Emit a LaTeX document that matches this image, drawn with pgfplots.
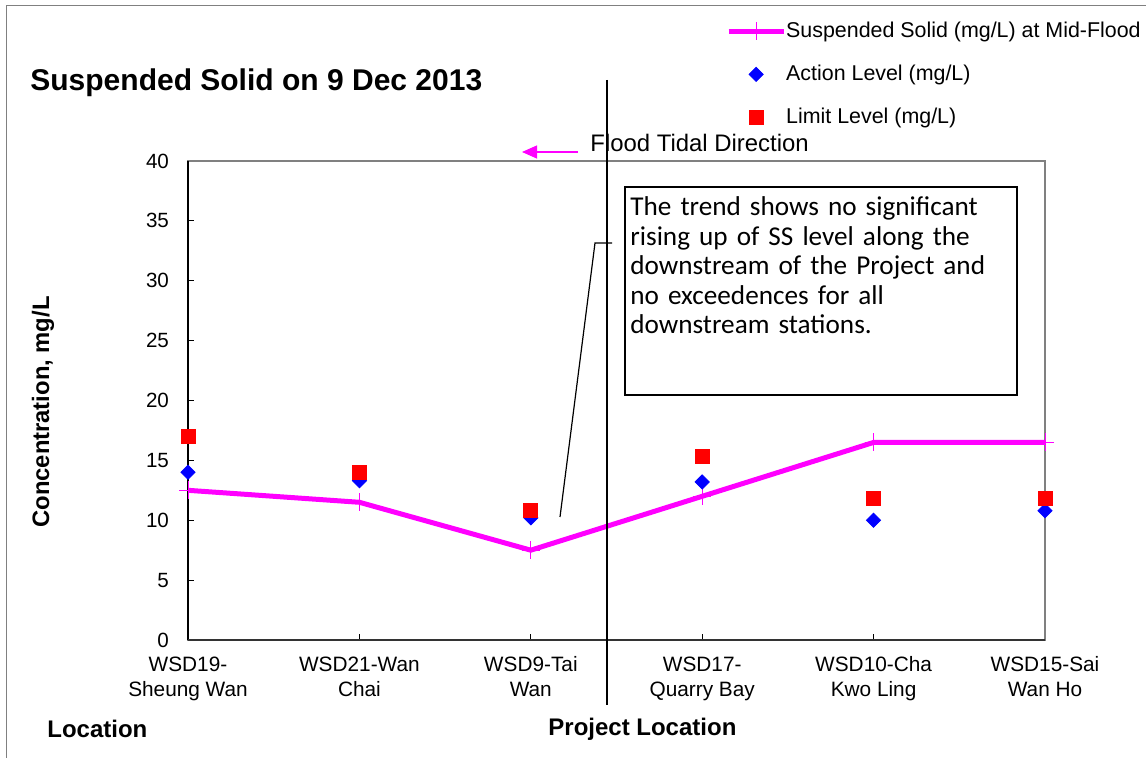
\documentclass[border=0pt]{standalone}
\usepackage{pgfplots}
\pgfplotsset{compat=1.18}
\usepackage{fontspec}
\setmainfont{Liberation Sans}
\newfontfamily\calibri{Carlito}
\usetikzlibrary{arrows.meta}
\definecolor{ssmag}{RGB}{255,0,255}
\definecolor{frame}{RGB}{128,128,128}
\begin{document}
\begin{tikzpicture}
\useasboundingbox (0,0) rectangle (573pt,-379pt);
\begin{axis}[
 at={(94pt,-320pt)}, anchor=south west,
 scale only axis, width=428.5pt, height=239.5pt,
 xmin=0, xmax=5, ymin=0, ymax=40,
 xtick={0,1,2,3,4,5},
 xticklabels={
  {\begin{tabular}{@{}c@{}}WSD19-\\Sheung Wan\end{tabular}},
  {\begin{tabular}{@{}c@{}}WSD21-Wan\\Chai\end{tabular}},
  {\begin{tabular}{@{}c@{}}WSD9-Tai\\Wan\end{tabular}},
  {\begin{tabular}{@{}c@{}}WSD17-\\Quarry Bay\end{tabular}},
  {\begin{tabular}{@{}c@{}}WSD10-Cha\\Kwo Ling\end{tabular}},
  {\begin{tabular}{@{}c@{}}WSD15-Sai\\Wan Ho\end{tabular}}},
 ytick={0,5,...,40},
 tick align=inside, major tick length=3pt,
 xtick pos=bottom, ytick pos=left,
 axis line style={draw=frame, line width=0.6pt},
 tick style={black, line width=0.5pt},
 clip=false,
 /pgf/number format/assume math mode=true,
 yticklabel style={font=\fontsize{10.3}{12}\selectfont, xshift=-6pt},
 xticklabel style={font=\fontsize{10.4}{12.5}\selectfont, yshift=-3.6pt},
 legend style={at={(0.6280,1.2902)}, anchor=north west, draw=none, fill=none,
   inner sep=0pt, outer sep=0pt, font=\fontsize{10.7}{12}\selectfont,
   row sep=12.3pt, column sep=0pt, nodes={inner sep=0pt}},
 legend cell align=left,
 legend image code/.code={\draw[mark repeat=2, mark phase=2, #1] plot coordinates {(0pt,0pt) (13.75pt,0pt) (27.5pt,0pt)};},
]
\addplot[ssmag, line width=2.5pt, line join=round, mark=+, mark size=4.5pt, mark options={line width=0.5pt}]
 coordinates {(0,12.5) (1,11.5) (2,7.5) (3,12) (4,16.5) (5,16.5)};
\addplot[blue, only marks, mark=square*, mark size=2.5pt, mark options={rotate=45, fill=blue, draw=none}]
 coordinates {(0,14) (1,13.3) (2,10.2) (3,13.2) (4,10) (5,10.8)};
\addplot[red, only marks, mark=square*, mark size=3.5pt, mark options={fill=red, draw=none}]
 coordinates {(0,17) (1,14) (2,10.8) (3,15.3) (4,11.8) (5,11.8)};
\legend{Suspended Solid (mg/L) at Mid-Flood, Action Level (mg/L), Limit Level (mg/L)}
\draw[black, line width=0.75pt] (axis cs:0,0) -- (axis cs:0,40);
\draw[black!80, line width=0.75pt] (axis cs:0,0) -- (axis cs:5,0);
\end{axis}
\begin{scope}[x=0.5pt, y=-0.5pt]
\draw[frame, line width=0.75pt] (6.5,760) -- (6.5,5.5) -- (1150,5.5);
\node[anchor=base west, inner sep=0pt, font=\bfseries\fontsize{15}{18}\selectfont] at (30,91) {Suspended Solid on 9 Dec 2013};
\node[rotate=90, inner sep=0pt, font=\bfseries\fontsize{11.9}{14}\selectfont] at (43,412) {Concentration, mg/L};
\node[anchor=base west, inner sep=0pt, font=\bfseries\fontsize{12}{14}\selectfont] at (47,737) {Location};
\node[anchor=base west, inner sep=0pt, font=\bfseries\fontsize{12}{14}\selectfont] at (548,735) {Project Location};
\draw[black, line width=1pt] (607,80) -- (607,705);
\draw[ssmag, line width=0.6pt, -{Triangle[length=7.5pt,width=6.5pt]}] (578,152) -- (522,152);
\node[anchor=base west, inner sep=0pt, font=\fontsize{11.95}{14}\selectfont] at (590,152) {Flood Tidal Direction};
\draw[black, line width=0.6pt, fill=white] (625,187) rectangle (1017,395);
\node[anchor=base west, inner sep=0pt, text width=195pt, align=left, font=\calibri\fontsize{13.6}{14.75}\selectfont] at (630,216)
 {The trend shows no significant\\rising up of SS level along the\\downstream of the Project and\\no exceedences for all\\downstream stations.};
\draw[black, line width=0.6pt] (560,517) -- (595,243) -- (612,243);
\end{scope}
\end{tikzpicture}
\end{document}
